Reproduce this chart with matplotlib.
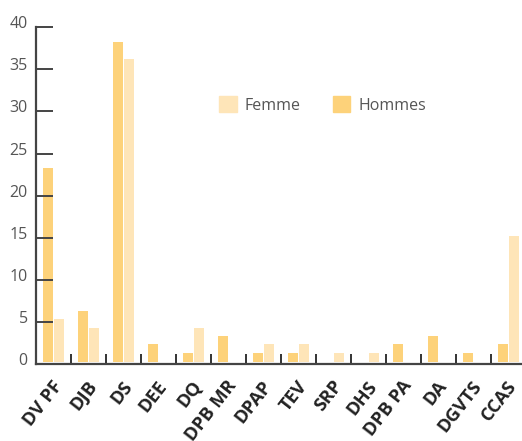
import numpy as np
import matplotlib.pyplot as plt
import matplotlib.transforms as mtransforms
from matplotlib.patches import Patch

plt.rcParams['font.family'] = ['Open Sans', 'DejaVu Sans']

services = ['DV PF', 'DJB', 'DS', 'DEE', 'DQ', 'DPB MR', 'DPAP', 'TEV',
            'SRP', 'DHS', 'DPB PA', 'DA', 'DGVTS', 'CCAS']
hommes = [23.1, 6.1, 38.0, 2.2, 1.1, 3.1, 1.1, 1.1, 0, 0, 2.2, 3.1, 1.1, 2.2]
femme = [5.1, 4.1, 36.0, 0, 4.1, 0, 2.2, 2.2, 1.1, 1.1, 0, 0, 0, 15.0]

c_hommes = '#fdd27a'
c_femme = '#fee5b8'

fig = plt.figure(figsize=(5.22, 4.41), dpi=100)
ax = fig.add_axes([36/522, 77/441, 1 - 36/522, (364 - 27.3)/441])

x = np.arange(len(services))
w = 10/35
ax.bar(x - w/2 - 0.5/35, hommes, width=w, color=c_hommes, bottom=0.2)
ax.bar(x + w/2 + 0.5/35, femme, width=w, color=c_femme, bottom=0.2)

ax.set_xlim(-0.5, -0.5 + (522 - 36)/35)
ax.set_ylim(0, 40)

for s in ['top', 'right']:
    ax.spines[s].set_visible(False)
for s in ['left', 'bottom']:
    ax.spines[s].set_color('#444444')
    ax.spines[s].set_linewidth(1.6)

ax.set_yticks(np.arange(0, 41, 5))
ax.tick_params(axis='y', direction='in', length=12, width=1.4, color='#444444',
               labelsize=11.5, labelcolor='#555555', pad=6)
offset = mtransforms.ScaledTranslation(0, 5/100, fig.dpi_scale_trans)
for lab in ax.get_yticklabels():
    lab.set_transform(lab.get_transform() + offset)

# category boundary ticks (minor) and labels on major
ax.set_xticks(x)
ax.set_xticks(np.arange(0.5, len(services) - 1, 1), minor=True)
ax.tick_params(axis='x', which='major', length=0, pad=9.5)
ax.tick_params(axis='x', which='minor', direction='in', length=7, width=1.4,
               color='#333333')
ax.set_xticklabels(services, rotation=52, ha='right', va='top',
                   rotation_mode='anchor', fontsize=13.2, fontweight='bold',
                   color='#222222')
xoff = mtransforms.ScaledTranslation(-2/100, 0, fig.dpi_scale_trans)
for lab in ax.get_xticklabels():
    lab.set_transform(lab.get_transform() + xoff)

handles = [Patch(color=c_femme), Patch(color=c_hommes)]
ax.legend(handles, ['Femme', 'Hommes'], ncol=2, frameon=False,
          loc='center left', fontsize=11.5, labelcolor='#555555',
          handlelength=1.1, handleheight=1.1, handletextpad=0.5,
          columnspacing=2.0, borderaxespad=0, borderpad=0)
leg = ax.get_legend()
leg.set_bbox_to_anchor(((219 - 36)/(522 - 36), (364 - 105)/(364 - 27.3)),
                       transform=ax.transAxes)

fig.savefig('out.png', dpi=100)
